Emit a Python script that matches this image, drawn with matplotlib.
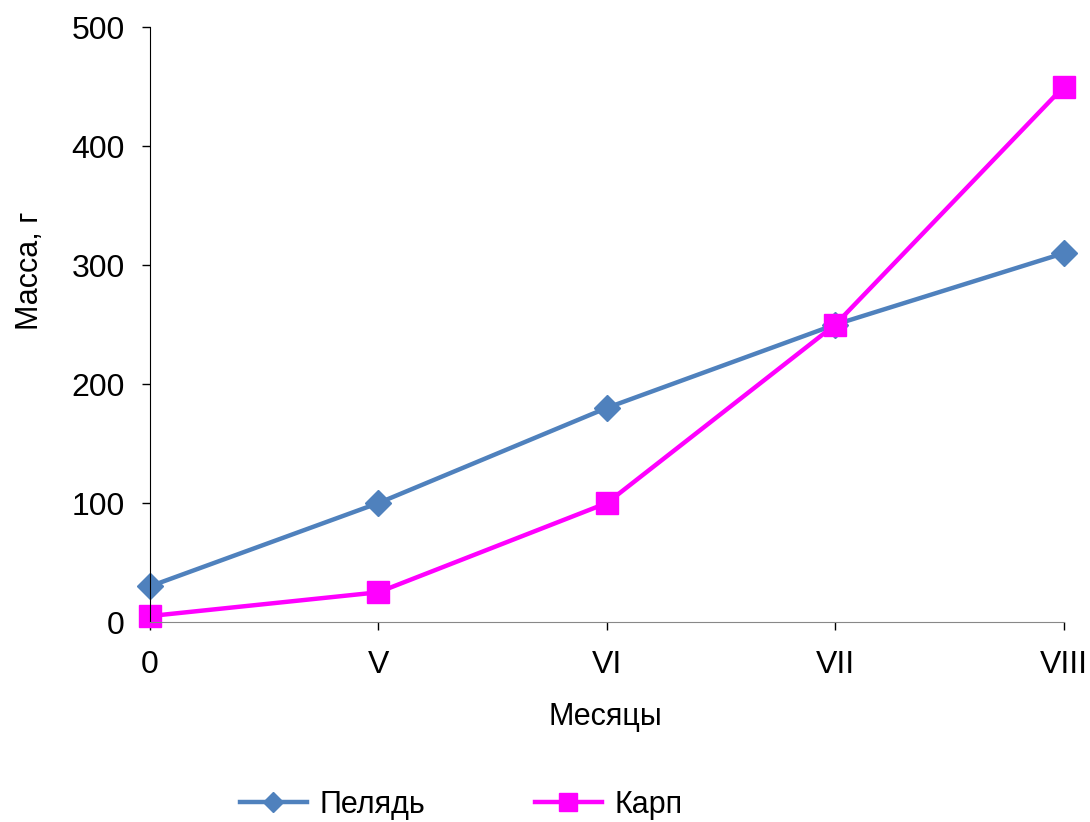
import matplotlib.pyplot as plt

plt.rcParams['font.family'] = ['Liberation Sans', 'DejaVu Sans']

months = ['0', 'V', 'VI', 'VII', 'VIII']
peled = [30, 100, 180, 250, 310]
carp = [5, 25, 100, 250, 450]

fig = plt.figure(figsize=(10.9, 8.22), dpi=100)
ax = fig.add_axes([0.1376, 0.2433, 0.976 - 0.1376, 0.967 - 0.2433])

x = list(range(len(months)))
ax.plot(x, peled, color='#4F81BD', lw=3.2, marker='D', ms=13, label='Пелядь', clip_on=False)
ax.plot(x, carp, color='#FF00FF', lw=3.2, marker='s', ms=16, label='Карп', clip_on=False)

ax.set_xlim(0, 4)
ax.set_ylim(0, 500)
ax.set_xticks(x)
ax.set_xticklabels(months)
ax.set_yticks([0, 100, 200, 300, 400, 500])
ax.tick_params(axis='both', labelsize=23, length=6, width=1, direction='out')
ax.tick_params(axis='x', pad=14)
ax.tick_params(axis='y', pad=12)

ax.spines['top'].set_visible(False)
ax.spines['right'].set_visible(False)
ax.spines['left'].set_color('#000000')
ax.spines['bottom'].set_color('#888888')

ax.set_xlabel('Месяцы', fontsize=22)
ax.set_ylabel('Масса, г', fontsize=22)
ax.xaxis.set_label_coords(0.498, -0.16)
ax.xaxis.label.set_va('center')
ax.yaxis.set_label_coords(-0.131, 0.59)
ax.yaxis.label.set_va('center')

fig.legend(loc='center', bbox_to_anchor=(0.423, 0.021), ncol=2, frameon=False,
           fontsize=22, handlelength=2.2, handletextpad=0.4, columnspacing=3.6,
           markerscale=0.8)

fig.savefig('out.png', dpi=100)
